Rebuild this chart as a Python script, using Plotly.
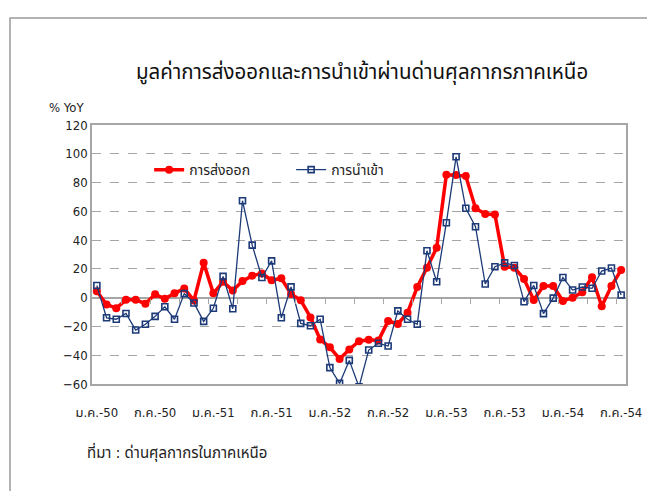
import plotly.graph_objects as go

months = ["ม.ค.", "ก.พ.", "มี.ค.", "เม.ย.", "พ.ค.", "มิ.ย.", "ก.ค.", "ส.ค.", "ก.ย.", "ต.ค.", "พ.ย.", "ธ.ค."]
categories = [f"{months[i % 12]}-{50 + i // 12}" for i in range(55)]

exports = [4.5, -4.7, -7.4, -1.5, -1.5, -4.2, 2.3, -0.8, 3.0, 6.4,
           -2.0, 24.2, 3.0, 11.0, 5.0, 11.5, 15.3, 16.8, 12.1, 13.5,
           2.5, -1.8, -13.7, -29.0, -34.5, -42.6, -36.0, -30.3, -29.3, -29.8,
           -16.2, -18.3, -10.4, 7.4, 20.8, 34.7, 85.5, 85.3, 84.5, 62.2,
           58.2, 57.8, 21.5, 20.8, 13.0, -1.7, 8.1, 8.1, -2.3, 0.0,
           3.8, 14.2, -6.0, 8.1, 19.3]

imports = [8.5, -14.0, -15.0, -11.0, -22.5, -18.5, -13.0, -6.3, -15.0, 2.8,
           -3.7, -16.5, -7.4, 14.8, -7.7, 67.4, 36.5, 14.0, 25.6, -14.0,
           7.5, -17.9, -19.5, -15.0, -48.6, -59.6, -43.6, -62.0, -36.4, -31.7,
           -33.6, -9.2, -15.0, -18.5, 32.6, 11.1, 52.1, 97.9, 62.1, 49.3,
           9.5, 21.5, 24.2, 22.4, -2.8, 8.5, -11.1, -0.3, 14.0, 5.3,
           7.4, 6.5, 18.5, 20.6, 1.9]

series_names = ["การส่งออก", "การนำเข้า"]
title_text = "มูลค่าการส่งออกและการนำเข้าผ่านด่านศุลกากรภาคเหนือ"
source_text = "ที่มา : ด่านศุลกากรในภาคเหนือ"
y_unit = "% YoY"

x = list(range(len(categories)))
label_idx = list(range(0, len(categories), 6))
minor_ticks = [k - 0.5 for k in range(3, len(categories), 3)]

FONT = "Tahoma, 'DejaVu Sans Condensed', 'Noto Sans Thai', 'DejaVu Sans', sans-serif"
GRID = "#a6a6a6"
NAVY = "#1c3a78"

fig = go.Figure()
fig.add_trace(go.Scatter(
    x=x, y=exports, name=series_names[0], mode="lines+markers",
    line=dict(color="#ff0000", width=3.5),
    marker=dict(symbol="circle", size=8, color="#ff0000"),
))
fig.add_trace(go.Scatter(
    x=x, y=imports, name=series_names[1], mode="lines+markers",
    line=dict(color=NAVY, width=1.3),
    marker=dict(symbol="square-open", size=6, color=NAVY, line=dict(width=1.6, color=NAVY)),
))
# invisible trace to carry the mid-axis tick marks
fig.add_trace(go.Scatter(x=[x[0]], y=[None], xaxis="x2", showlegend=False, hoverinfo="skip"))

fig.update_layout(
    width=647, height=483,
    margin=dict(l=84, r=29, t=117, b=107),
    paper_bgcolor="white", plot_bgcolor="white",
    font=dict(family=FONT, size=12, color="#222222"),
    showlegend=True,
    legend=dict(orientation="h", x=0.107, y=0.826, xanchor="left", yanchor="middle",
                bgcolor="rgba(0,0,0,0)", font=dict(size=14, color="#222222"),
                entrywidth=97, entrywidthmode="pixels", tracegroupgap=0),
    xaxis=dict(
        range=[-0.5, len(categories) - 0.5],
        tickmode="array", tickvals=label_idx,
        ticktext=[categories[i] for i in label_idx],
        ticks="", showgrid=False, zeroline=False,
        showline=True, linecolor=GRID, linewidth=1.5, mirror=True,
        tickfont=dict(size=13, color="#222222"), ticklabelstandoff=16,
    ),
    xaxis2=dict(
        overlaying="x", anchor="free", position=1 / 3,
        range=[-0.5, len(categories) - 0.5],
        tickmode="array", tickvals=minor_ticks, ticks="outside", ticklen=5,
        tickcolor=GRID, tickwidth=1.3,
        showticklabels=False, showgrid=False, zeroline=False, showline=False,
    ),
    yaxis=dict(
        range=[-60, 120], dtick=20, tick0=0,
        showgrid=True, gridcolor=GRID, griddash="dash", gridwidth=1.2,
        zeroline=True, zerolinecolor=GRID, zerolinewidth=1.5,
        showline=True, linecolor=GRID, linewidth=1.5, mirror=True,
        ticks="", tickfont=dict(size=13, color="#222222"),
    ),
    annotations=[
        dict(text=title_text, xref="paper", yref="paper", x=0.505, y=(384 - 73) / 259,
             xanchor="center", yanchor="middle", showarrow=False,
             font=dict(size=20.5, color="#111111")),
        dict(text=y_unit, xref="paper", yref="paper", x=(47 - 92) / 534, y=(384 - 108) / 259,
             xanchor="left", yanchor="middle", showarrow=False, font=dict(size=13, color="#222222")),
        dict(text=source_text, xref="paper", yref="paper", x=(85 - 92) / 534, y=(384 - 452) / 259,
             xanchor="left", yanchor="middle", showarrow=False, font=dict(size=15, color="#222222")),
    ],
    shapes=[
        dict(type="rect", xref="paper", yref="paper",
             x0=(10 - 92) / 534, x1=1.2, y0=-0.6, y1=(384 - 18) / 259,
             line=dict(color="#9a9a9a", width=1.5), layer="below"),
    ],
)

fig.write_html("out.html")
